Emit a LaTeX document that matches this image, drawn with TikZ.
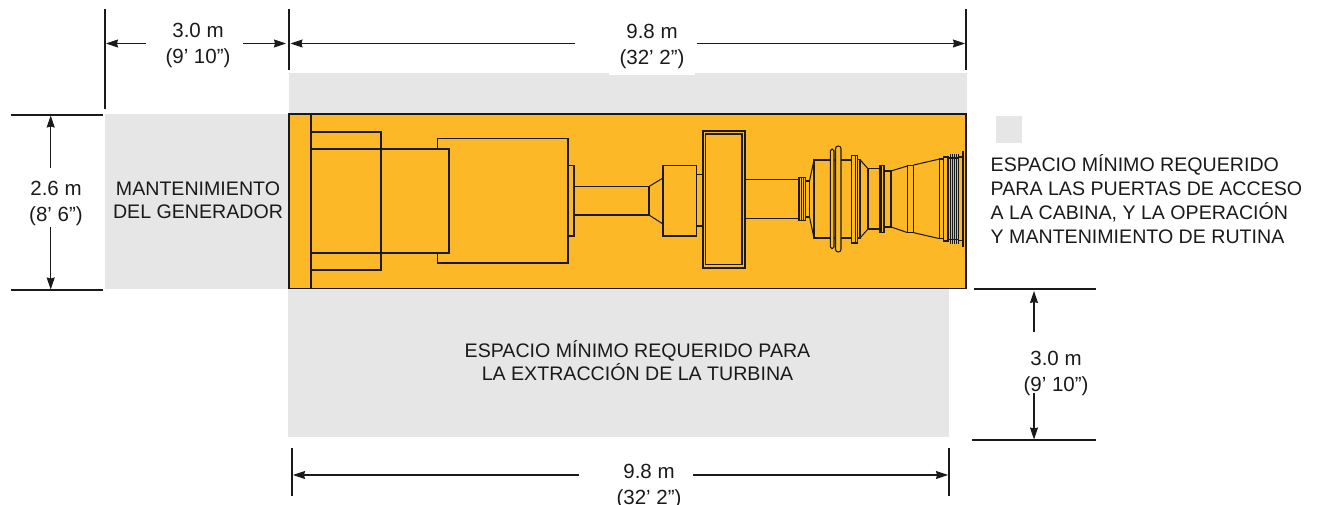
\documentclass[tikz,border=0pt]{standalone}
\usepackage{fontspec}
\setmainfont{Liberation Sans}
\usetikzlibrary{arrows.meta}
\definecolor{orangefill}{HTML}{FDB827}
\definecolor{spacegray}{HTML}{E6E6E6}
\definecolor{inkblack}{HTML}{1A1A1A}
\tikzset{
  x=1pt,y=-1pt,
  ln/.style={draw=inkblack,line width=1.05pt,line join=miter},
  thinln/.style={draw=inkblack,line width=.7pt},
  space/.style={fill=spacegray,draw=none},
  ext/.style={draw=inkblack,line width=1.05pt},
  dimarrow/.style={draw=inkblack,line width=1.05pt,-{Stealth[length=12pt,width=8pt,inset=1pt]}},
  dimtext/.style={font=\fontsize{20.5}{26}\selectfont,align=center,text=inkblack,inner sep=0pt},
  areatext/.style={font=\fontsize{19.6}{23}\selectfont,align=center,text=inkblack,inner sep=0pt},
  legendtext/.style={font=\fontsize{19.6}{24}\selectfont,align=left,text=inkblack,inner sep=0pt,anchor=west},
}
\begin{document}
\begin{tikzpicture}
\useasboundingbox (0,0) rectangle (1317,505);
% grey spaces
\fill[space] (289,73) rectangle (967,114);
\fill[space] (105,114) rectangle (289,289);
\fill[space] (288,289) rectangle (949,437);
\fill[space] (996,116) rectangle (1022,143);
% enclosure
\draw[ln,fill=orangefill] (289,114) rectangle (966,288.5);
\draw[ln] (311,114) -- (311,288.5);
% generator
\draw[ln] (311,132) -- (381,132) -- (381,270) -- (311,270);
\draw[ln] (437.5,149) -- (437.5,138.5) -- (568,138.5) -- (568,263) -- (437.5,263) -- (437.5,253);
\draw[ln] (311,149) -- (449,149) -- (449,253) -- (311,253);
\draw[ln] (568,165.5) rectangle (574,236);
\draw[ln] (574,186.5) rectangle (649,215);
\draw[ln] (649,186.5) -- (663,178) (649,215) -- (663,224);
\draw[ln] (663,165.5) rectangle (696.5,236);
\draw[ln] (696.5,174.5) rectangle (703,226);
\draw[ln] (703,131) rectangle (745,268);
\draw[ln] (705.8,134) rectangle (742,264.5);
% turbine
\draw[ln] (745,179.3) rectangle (799,218.7);
\draw[ln] (799,177.7) rectangle (805.5,220.3);
\draw[thinln] (801,177.7) -- (801,220.3) (803,177.7) -- (803,220.3);
\draw[ln] (805.5,181) rectangle (809.5,217);
\draw[ln] (809.5,181) -- (814,160) (809.5,217) -- (814,238);
\draw[ln] (814,160) rectangle (851.5,238);
\draw[ln,fill=orangefill,rounded corners=1.8pt] (830.3,149) rectangle (834,248.7);
\draw[ln,fill=orangefill,rounded corners=2.7pt] (835.5,146) rectangle (841,252);
\draw[ln] (851.5,155.3) rectangle (857.5,243);
\draw[thinln] (855,155.3) -- (855,243);
\draw[ln] (857.5,159.7) rectangle (860,238);
\draw[ln] (860,159.7) -- (868,168.7) (860,238) -- (868,229);
\draw[ln] (868,168.7) rectangle (880,229);
\draw[ln] (880,165.7) rectangle (884.7,232.3);
\draw[thinln] (881.7,165.7) -- (881.7,232.3) (883.2,165.7) -- (883.2,232.3);
\draw[ln] (884.7,171) rectangle (891,227);
\draw[ln] (891,171) -- (907.3,166) (891,227) -- (907.3,232.5);
\draw[ln] (907.3,165.3) rectangle (913.7,232.7);
\draw[ln] (913.7,165) -- (939.7,159) (913.7,232.7) -- (939.7,238.7);
\draw[ln] (939.7,159) rectangle (943.7,238.7);
\draw[ln] (943.7,157) rectangle (948,241);
\draw[ln] (948,158) rectangle (958.7,239.5);
\foreach \fx in {950,952,954,956,958}{\draw[thinln] (\fx,154.3) -- (\fx,243.7);}
\draw[ln] (958.7,157) rectangle (962.7,240.7);
\draw[ln] (963,151) -- (963,247);
% area labels
\node[areatext] (gen) at (198,200) {MANTENIMIENTO\\DEL GENERADOR};
\node[areatext] (ext) at (637.5,361) {ESPACIO MÍNIMO REQUERIDO PARA\\LA EXTRACCIÓN DE LA TURBINA};
\node[legendtext] (legend) at (990.5,199.5) {ESPACIO MÍNIMO REQUERIDO\\PARA LAS PUERTAS DE ACCESO\\A LA CABINA, Y LA OPERACIÓN\\Y MANTENIMIENTO DE RUTINA};
% dimension: top left
\coordinate (eA1) at (105,9); \coordinate (eA2) at (105,109);
\coordinate (eB1) at (289,9); \coordinate (eB2) at (289,70);
\coordinate (eC1) at (966,9); \coordinate (eC2) at (966,70);
\draw[ext] (eA1) -- (eA2);
\draw[ext] (eB1) -- (eB2);
\draw[ext] (eC1) -- (eC2);
\node[dimtext] (topa) at (198,45.5) {3.0 m\\(9' 10”)};
\coordinate (a1) at (146,43.5); \coordinate (a1e) at (106,43.5);
\coordinate (a2) at (243,43.5); \coordinate (a2e) at (286,43.5);
\draw[dimarrow] (a1) -- (a1e);
\draw[dimarrow] (a2) -- (a2e);
\node[dimtext,fill=white,minimum width=86pt,minimum height=56pt] (topb) at (652,46.7) {9.8 m\\(32' 2”)};
\coordinate (b1) at (575,43.5); \coordinate (b1e) at (290.5,43.5);
\coordinate (b2) at (697,43.5); \coordinate (b2e) at (965,43.5);
\draw[dimarrow] (b1) -- (b1e);
\draw[dimarrow] (b2) -- (b2e);
% dimension: left
\coordinate (lA1) at (11,115); \coordinate (lA2) at (103,115);
\coordinate (lB1) at (11,290); \coordinate (lB2) at (103,290);
\draw[ext] (lA1) -- (lA2);
\draw[ext] (lB1) -- (lB2);
\node[dimtext] (lefta) at (56,203) {2.6 m\\(8' 6”)};
\coordinate (l1) at (50.7,168); \coordinate (l1e) at (50.7,115.5);
\coordinate (l2) at (50.7,227); \coordinate (l2e) at (50.7,289.5);
\draw[dimarrow] (l1) -- (l1e);
\draw[dimarrow] (l2) -- (l2e);
% dimension: right
\coordinate (rA1) at (974,289); \coordinate (rA2) at (1096,289);
\coordinate (rB1) at (972,440); \coordinate (rB2) at (1096,440);
\draw[ext] (rA1) -- (rA2);
\draw[ext] (rB1) -- (rB2);
\node[dimtext] (righta) at (1056,373) {3.0 m\\(9' 10”)};
\coordinate (r1) at (1034,332); \coordinate (r1e) at (1034,291);
\coordinate (r2) at (1034,393); \coordinate (r2e) at (1034,439.5);
\draw[dimarrow] (r1) -- (r1e);
\draw[dimarrow] (r2) -- (r2e);
% dimension: bottom
\coordinate (bA1) at (292,448); \coordinate (bA2) at (292,496);
\coordinate (bB1) at (949,448); \coordinate (bB2) at (949,496);
\draw[ext] (bA1) -- (bA2);
\draw[ext] (bB1) -- (bB2);
\node[dimtext] (bottoma) at (649,486) {9.8 m\\(32' 2”)};
\coordinate (c1) at (579,475); \coordinate (c1e) at (293,475);
\coordinate (c2) at (693,475); \coordinate (c2e) at (948,475);
\draw[dimarrow] (c1) -- (c1e);
\draw[dimarrow] (c2) -- (c2e);
\end{tikzpicture}
\end{document}
